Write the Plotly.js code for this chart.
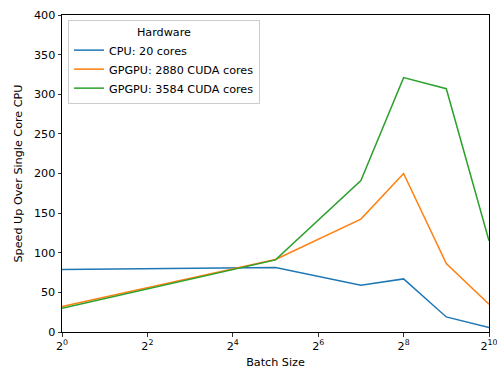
<!DOCTYPE html>
<html><head><meta charset="utf-8">
<script src="https://cdn.plot.ly/plotly-3.0.1.min.js"></script>
<style>html,body{margin:0;padding:0;background:#fff}#chart{width:497px;height:369px}</style>
</head><body><div id="chart"></div>
<script>
const batchSizes = [1, 32, 128, 256, 512, 1024];
const cpu20 = [79, 81.5, 59, 67, 19, 5.5];
const gpu2880 = [32, 91.5, 142.5, 200, 86.5, 35];
const gpu3584 = [30, 91, 191, 321, 307, 115];
const seriesNames = ['CPU: 20 cores', 'GPGPU: 2880 CUDA cores', 'GPGPU: 3584 CUDA cores'];
const seriesColors = ['#1f77b4', '#ff7f0e', '#2ca02c'];
const xTickVals = [1, 4, 16, 64, 256, 1024];
const xTickText = ['2<sup>0</sup>', '2<sup>2</sup>', '2<sup>4</sup>', '2<sup>6</sup>', '2<sup>8</sup>', '2<sup>10</sup>'];
const yTickVals = [0, 50, 100, 150, 200, 250, 300, 350, 400];

const ys = [cpu20, gpu2880, gpu3584];
const traces = ys.map((y, i) => ({
  x: batchSizes, y: y, type: 'scatter', mode: 'lines', name: seriesNames[i],
  line: {color: seriesColors[i], width: 1.5}
}));

const axisCommon = {
  showline: true, mirror: true, linecolor: '#000', linewidth: 1,
  ticks: 'outside', ticklen: 3.5, tickwidth: 0.8, tickcolor: '#000',
  showgrid: false, zeroline: false, automargin: false,
  ticklabeloverflow: 'allow',
  tickfont: {size: 11.2, color: '#000'}
};

const layout = {
  width: 497, height: 369,
  margin: {l: 62, r: 8, t: 15, b: 37},
  paper_bgcolor: '#fff', plot_bgcolor: '#fff',
  font: {family: 'DejaVu Sans', size: 11.2, color: '#000'},
  showlegend: true,
  xaxis: Object.assign({}, axisCommon, {
    type: 'log', range: [0, Math.log10(1024)],
    tickmode: 'array', tickvals: xTickVals, ticktext: xTickText,
    title: {text: 'Batch Size', font: {size: 11.2}, standoff: 15}
  }),
  yaxis: Object.assign({}, axisCommon, {
    range: [0, 400], tickmode: 'array', tickvals: yTickVals,
    title: {text: 'Speed Up Over Single Core CPU', font: {size: 11.2}, standoff: 8}
  }),
  legend: {
    x: 0.014, y: 0.984, xanchor: 'left', yanchor: 'top',
    bgcolor: 'rgba(255,255,255,0.8)', bordercolor: '#cccccc', borderwidth: 1,
    font: {size: 11.2},
    title: {text: 'Hardware', side: 'top center', font: {size: 11.2}},
    tracegroupgap: 0
  }
};

Plotly.newPlot('chart', traces, layout, {displayModeBar: false, staticPlot: true});
</script></body></html>
